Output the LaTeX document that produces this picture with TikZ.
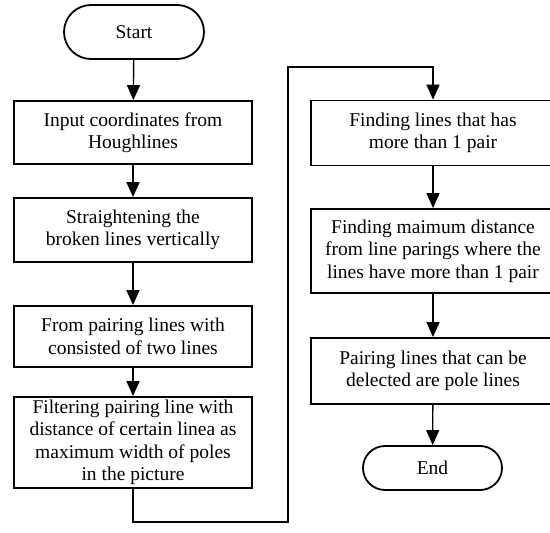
\documentclass[tikz,border=0pt]{standalone}
\usepackage{fontspec}
\setmainfont{Liberation Serif}
\usetikzlibrary{arrows.meta}
\tikzset{
  procbox/.style={draw, line width=1.8pt, inner sep=0pt, align=center,
    font=\fontsize{19.5}{22.5}\selectfont},
  termbox/.style={procbox, rounded corners=#1},
  flow/.style={line width=1.4pt, -{Triangle[length=15pt,width=13pt]}},
}
\begin{document}
\begin{tikzpicture}[x=1pt,y=-1pt]
\useasboundingbox (0,0) rectangle (550,533);
% left column
\node[termbox=27pt, minimum width=140pt, minimum height=54pt] (start) at (134,32) {Start};
\node[procbox, minimum width=238pt, minimum height=63pt] (input) at (133,132.5) {Input coordinates from\\Houghlines};
\node[procbox, minimum width=238pt, minimum height=64pt] (straight) at (133,230) {Straightening the\\broken lines vertically};
\node[procbox, minimum width=238pt, minimum height=61pt] (pairing) at (133,336.5) {From pairing lines with\\consisted of two lines};
\node[procbox, minimum width=238pt, minimum height=91pt] (filter) at (133,442.5) {Filtering pairing line with\\distance of certain linea as\\maximum width of poles\\in the picture};
% right column
\node[procbox, minimum width=244pt, minimum height=65pt] (multi) at (433,133) {Finding lines that has\\more than 1 pair};
\node[procbox, minimum width=244pt, minimum height=84pt] (maxdist) at (433,251) {Finding maimum distance\\from line parings where the\\lines have more than 1 pair};
\node[procbox, minimum width=244pt, minimum height=66pt] (poles) at (433,371) {Pairing lines that can be\\delected are pole lines};
\node[termbox=22pt, minimum width=139pt, minimum height=44pt] (end) at (432.5,468) {End};
\coordinate (c1) at (288,522);
\coordinate (c2) at (288,67);
\draw[flow] (start) -- (input);
\draw[flow] (input) -- (straight);
\draw[flow] (straight) -- (pairing);
\draw[flow] (pairing) -- (filter);
\draw[flow] (filter.south) |- (c1) -- (c2) -| (multi.north);
\draw[flow] (multi) -- (maxdist);
\draw[flow] (maxdist) -- (poles);
\draw[flow] (poles) -- (end);
\end{tikzpicture}
\end{document}
